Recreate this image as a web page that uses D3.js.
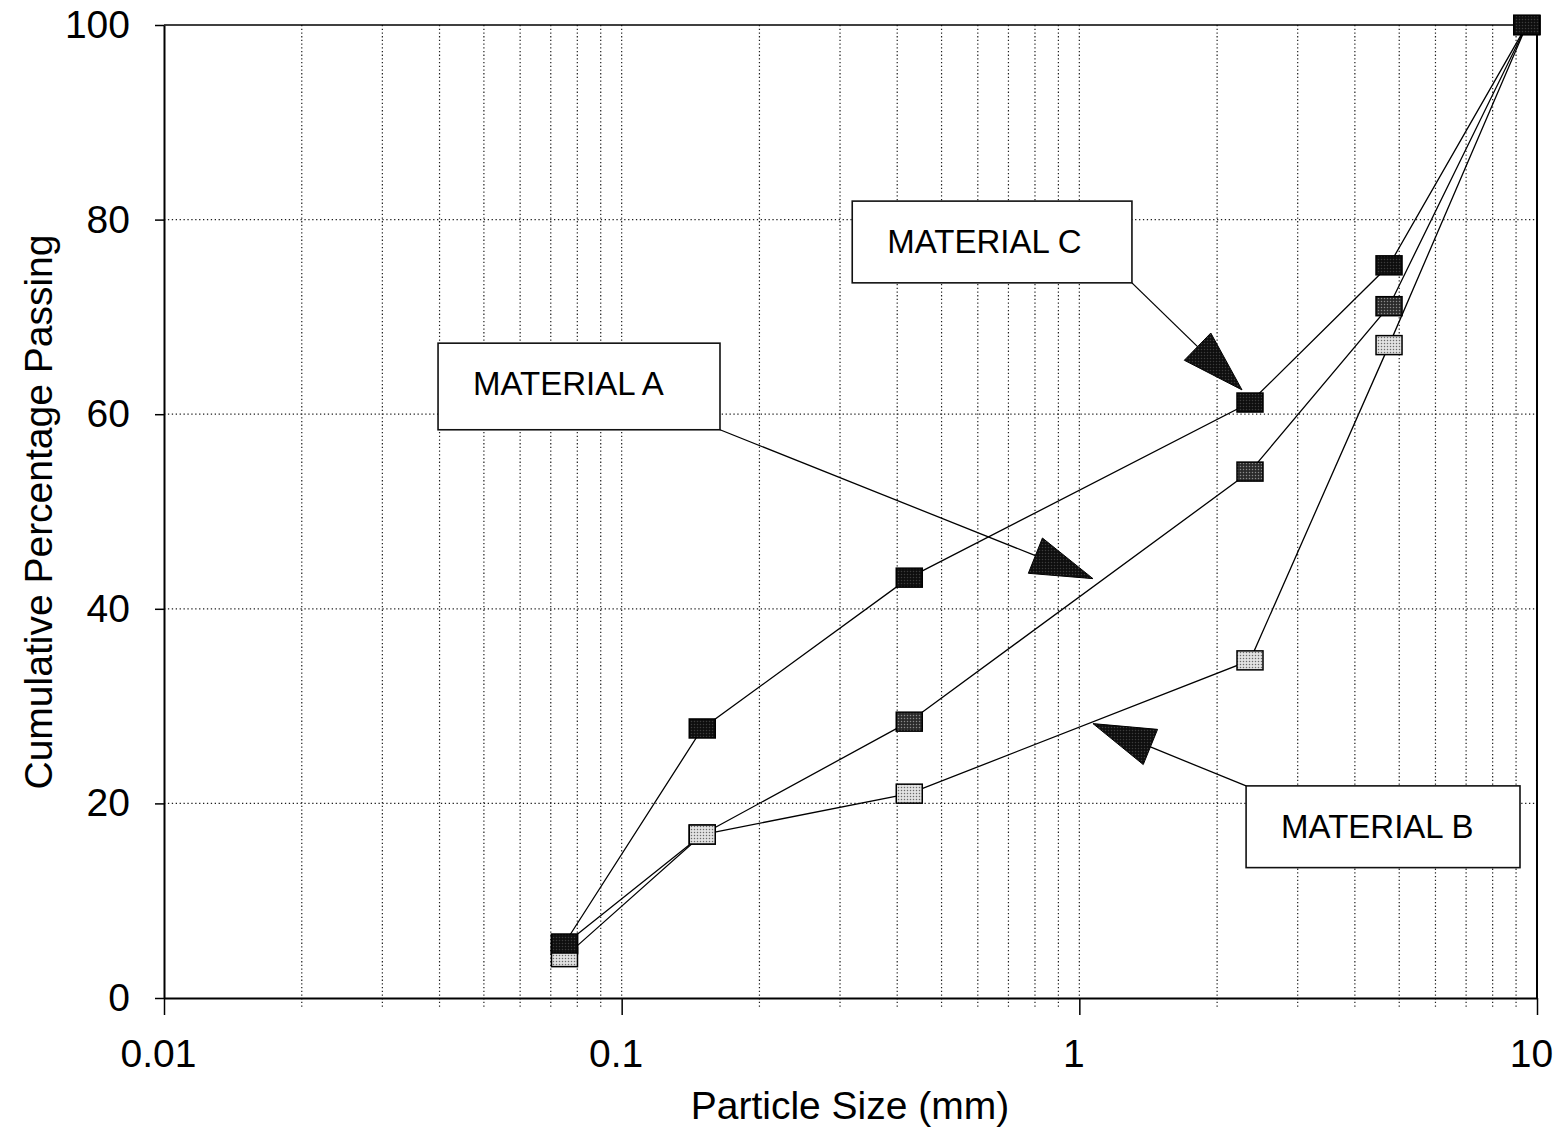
<!DOCTYPE html>
<html>
<head>
<meta charset="utf-8">
<script src="https://cdn.jsdelivr.net/npm/d3@7"></script>
<style>
  body { margin: 0; background: #fff; }
  svg { display: block; font-family: "Liberation Sans", Arial, sans-serif; }
</style>
</head>
<body>
<svg id="chart" width="1564" height="1131"></svg>
<script>
// Sieve sizes (mm) and cumulative percentage passing for each material
const sieveSizes = [0.075, 0.15, 0.425, 2.36, 4.75, 9.5];
const materialA = [5.5, 16.8, 28.4, 54.1, 71.1, 100];
const materialB = [4.2, 16.8, 21.0, 34.7, 67.1, 100];
const materialC = [5.6, 27.7, 43.2, 61.2, 75.3, 100];

// Axis ticks
const xTickValues = [0.01, 0.1, 1, 10];
const xTickLabels = ["0.01", "0.1", "1", "10"];
const yTickValues = [0, 20, 40, 60, 80, 100];

// Callouts: label, box extent and pointer tip, in data units
const calloutLabels = ["MATERIAL A", "MATERIAL B", "MATERIAL C"];
const calloutBoxX = [[0.0397, 0.164], [2.314, 9.18], [0.319, 1.303]];
const calloutBoxY = [[67.3, 58.4], [21.8, 13.4], [81.9, 73.5]];
const calloutTips = [[1.071, 43.1], [1.071, 28.2], [2.267, 62.5]];
const calloutAnchor = ["bottomRight", "topLeft", "bottomRight"];

const svg = d3.select("#chart");
const plotLeft = 164, plotRight = 1537, plotTop = 25, plotBottom = 998;

const x = d3.scaleLog().domain([0.01, 10]).range([plotLeft, plotRight]);
const y = d3.scaleLinear().domain([0, 100]).range([plotBottom, plotTop]);

// Dotted fill patterns for the square markers
const defs = svg.append("defs");
function dotPattern(id, bg, dot) {
  const p = defs.append("pattern").attr("id", id)
    .attr("width", 3).attr("height", 3).attr("patternUnits", "userSpaceOnUse");
  p.append("rect").attr("width", 3).attr("height", 3).attr("fill", bg);
  p.append("circle").attr("cx", 1.5).attr("cy", 1.5).attr("r", 0.75).attr("fill", dot);
}
dotPattern("patA", "#2a2a2a", "#8a8a8a");
dotPattern("patB", "#e2e2e2", "#6a6a6a");
dotPattern("patC", "#0e0e0e", "#3c3c3c");

// Vertical gridlines at every log subdivision
const gridX = x.ticks().filter(v => v > 0.0100001 && v < 9.9999);
const isMajor = v => xTickValues.some(t => Math.abs(t - v) / t < 1e-6);
svg.append("g").selectAll("line").data(gridX).join("line")
  .attr("x1", d => x(d)).attr("x2", d => x(d))
  .attr("y1", plotTop).attr("y2", d => isMajor(d) ? plotBottom : plotBottom + 10)
  .attr("stroke", "#1e1e1e").attr("stroke-width", 1.2)
  .attr("stroke-dasharray", "1.3,2.4");

// Horizontal gridlines
svg.append("g").selectAll("line").data(yTickValues.filter(v => v > 0 && v < 100)).join("line")
  .attr("x1", plotLeft).attr("x2", plotRight)
  .attr("y1", d => y(d)).attr("y2", d => y(d))
  .attr("stroke", "#1e1e1e").attr("stroke-width", 1.2)
  .attr("stroke-dasharray", "1.3,2.6");

// Axes
const yAxis = svg.append("g").attr("transform", `translate(${plotLeft},0)`)
  .call(d3.axisLeft(y).tickValues(yTickValues).tickSize(9).tickSizeOuter(0).tickPadding(25));
const xAxis = svg.append("g").attr("transform", `translate(0,${plotBottom})`)
  .call(d3.axisBottom(x).tickValues(xTickValues).tickSize(17).tickSizeOuter(0).tickPadding(24)
    .tickFormat((d, i) => xTickLabels[i]));
[yAxis, xAxis].forEach(g => {
  g.select(".domain").attr("stroke", "#000").attr("stroke-width", 2);
  g.selectAll(".tick line").attr("stroke", "#000").attr("stroke-width", 1.5);
  g.selectAll(".tick text").attr("fill", "#000").attr("font-size", 39)
    .attr("font-family", "'Liberation Sans', Arial, sans-serif");
});
xAxis.selectAll(".tick text").attr("dx", -6);

// Top and right border
svg.append("line").attr("x1", plotLeft).attr("x2", plotRight).attr("y1", plotTop).attr("y2", plotTop)
  .attr("stroke", "#000").attr("stroke-width", 1.6);
svg.append("line").attr("x1", plotRight).attr("x2", plotRight).attr("y1", plotTop).attr("y2", plotBottom)
  .attr("stroke", "#000").attr("stroke-width", 2);

// Axis titles
svg.append("text").attr("x", 850).attr("y", 1119).attr("text-anchor", "middle")
  .attr("font-size", 39).text("Particle Size (mm)");
svg.append("text").attr("transform", "translate(52,512) rotate(-90)").attr("text-anchor", "middle")
  .attr("font-size", 39).text("Cumulative Percentage Passing");

// Grading curves
const series = [
  { values: materialA, fill: "url(#patA)" },
  { values: materialB, fill: "url(#patB)" },
  { values: materialC, fill: "url(#patC)" }
];
const line = d3.line().x(d => x(d[0])).y(d => y(d[1]));
series.forEach(s => {
  svg.append("path")
    .datum(sieveSizes.map((v, i) => [v, s.values[i]]))
    .attr("d", line).attr("fill", "none")
    .attr("stroke", "#000").attr("stroke-width", 1.3);
});
const mw = 26, mh = 19;
series.forEach(s => {
  svg.append("g").selectAll("rect")
    .data(sieveSizes.map((v, i) => [v, s.values[i]])).join("rect")
    .attr("x", d => x(d[0]) - mw / 2).attr("y", d => y(d[1]) - mh / 2)
    .attr("width", mw).attr("height", mh)
    .attr("fill", s.fill).attr("stroke", "#000").attr("stroke-width", 1.5);
});

// Callout boxes with pointer arrows
calloutLabels.forEach((label, i) => {
  const x0 = x(calloutBoxX[i][0]), x1 = x(calloutBoxX[i][1]);
  const y0 = y(calloutBoxY[i][0]), y1 = y(calloutBoxY[i][1]);
  const g = svg.append("g");
  g.append("rect").attr("x", x0).attr("y", y0).attr("width", x1 - x0).attr("height", y1 - y0)
    .attr("fill", "#fff").attr("stroke", "#111").attr("stroke-width", 1.6);
  g.append("text").attr("x", x0 + 35).attr("y", y0 + 52)
    .attr("font-size", 33).attr("fill", "#000").text(label);

  const sx = calloutAnchor[i] === "bottomRight" ? x1 : x0;
  const sy = calloutAnchor[i] === "bottomRight" ? y1 : y0;
  const tx = x(calloutTips[i][0]), ty = y(calloutTips[i][1]);
  const len = Math.hypot(tx - sx, ty - sy);
  const ux = (tx - sx) / len, uy = (ty - sy) / len;
  const headLen = 62, headHalf = 19;
  const bx = tx - ux * headLen, by = ty - uy * headLen;
  g.append("line").attr("x1", sx).attr("y1", sy).attr("x2", bx).attr("y2", by)
    .attr("stroke", "#000").attr("stroke-width", 1.3);
  g.append("path")
    .attr("d", `M${tx},${ty}L${bx - uy * headHalf},${by + ux * headHalf}L${bx + uy * headHalf},${by - ux * headHalf}Z`)
    .attr("fill", "url(#patC)").attr("stroke", "#000").attr("stroke-width", 1);
});
</script>
</body>
</html>
